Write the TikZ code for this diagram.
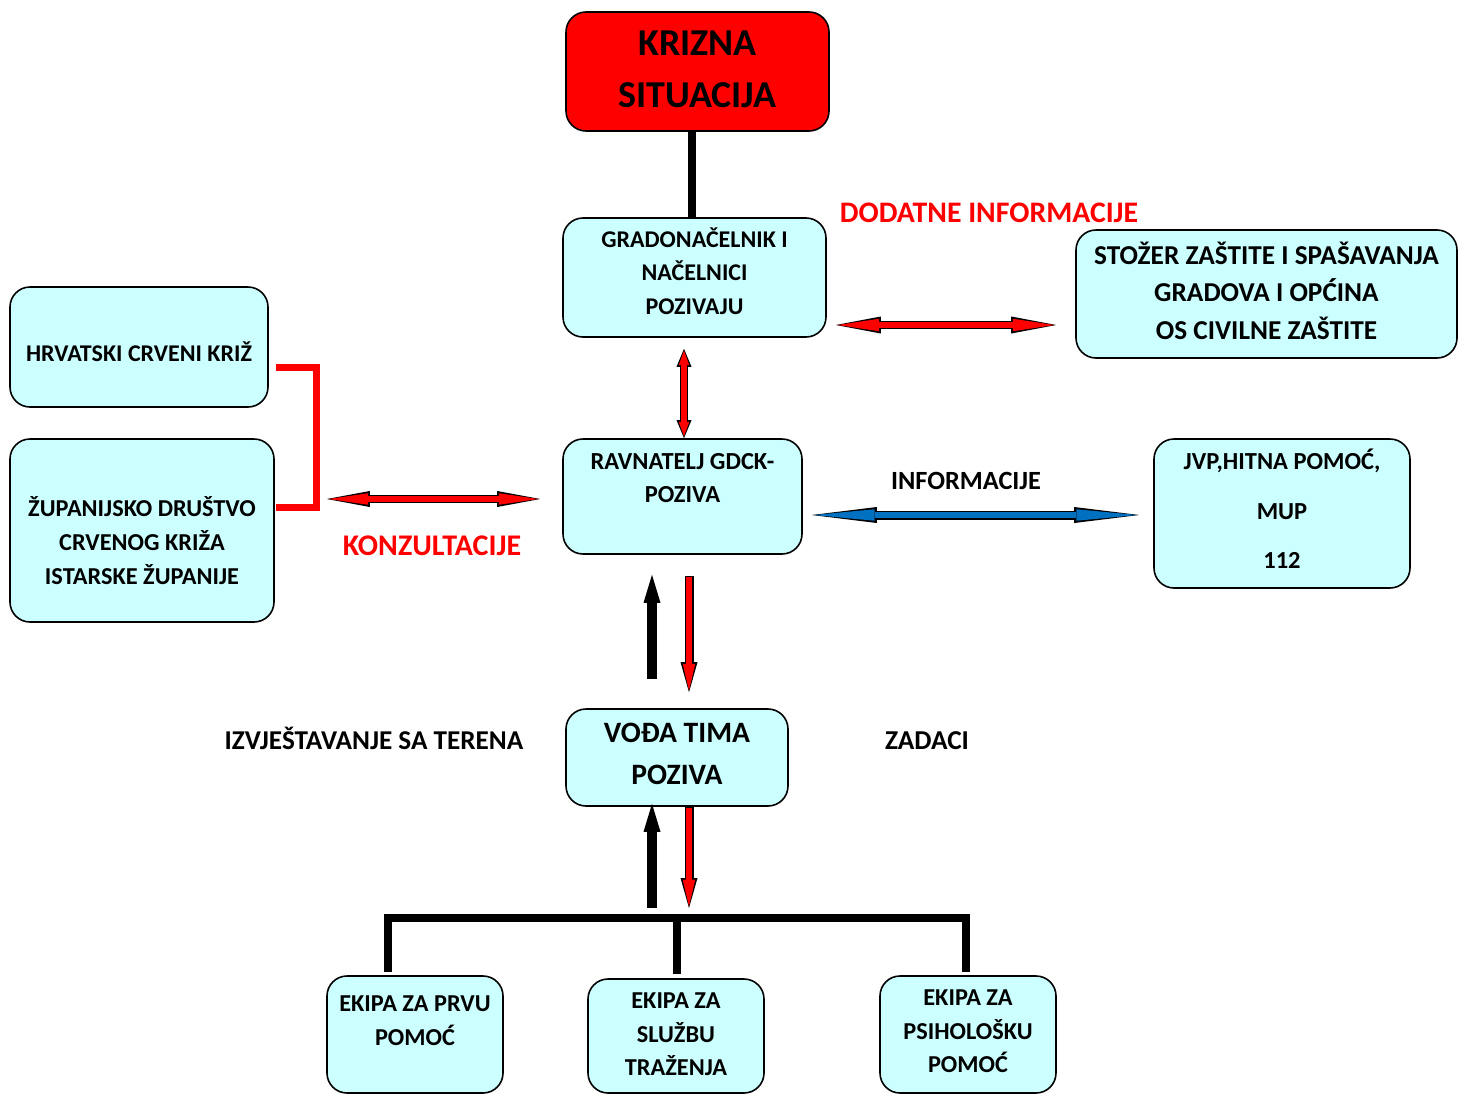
\documentclass[tikz,border=0pt]{standalone}
\usepackage{fontspec}
\setmainfont{Carlito}
\usetikzlibrary{arrows.meta,calc}
\definecolor{boxfill}{RGB}{204,255,255}
\definecolor{infoblue}{RGB}{0,112,192}
\newcommand{\shiftdn}[1]{\rule{0pt}{\dimexpr0.7\baselineskip+#1\relax}}
\newcommand{\shiftup}[1]{\rule[-\dimexpr0.3\baselineskip+#1\relax]{0pt}{0pt}}
\tikzset{
  box/.style={draw=black, line width=1.6pt, fill=boxfill, rounded corners=20pt,
    align=center, inner sep=0pt, font=\bfseries\fontsize{24}{33.5}\selectfont},
  lbl/.style={anchor=base, inner sep=0pt},
  dblock/.style n args={7}{draw=#1, line width=#7,
    {Triangle[length=#5,width=#6,line width=0pt]}-{Triangle[length=#5,width=#6,line width=0pt]},
    shorten <=1.8pt, shorten >=1.8pt,
    preaction={draw=black, line width=#4,
      {Triangle[length=#2,width=#3,line width=0pt]}-{Triangle[length=#2,width=#3,line width=0pt]},
      shorten <=0pt, shorten >=0pt}},
  sblock/.style n args={7}{draw=#1, line width=#7,
    -{Triangle[length=#5,width=#6,line width=0pt]},
    shorten <=1.5pt, shorten >=1.8pt,
    preaction={draw=black, line width=#4,
      -{Triangle[length=#2,width=#3,line width=0pt]},
      shorten <=0pt, shorten >=0pt}},
  blkup/.style={draw=black, line width=9.5pt, -{Triangle[length=28pt,width=17pt,line width=0pt]}},
  thickline/.style={draw=black, line width=8.5pt, line join=miter},
}
\begin{document}
\begin{tikzpicture}[x=1pt,y=-1pt]
\useasboundingbox (0,0) rectangle (1467,1095);
\fill[white] (0,0) rectangle (1467,1095);
\clip (0,0) rectangle (1467,1095);

% boxes
\node[box, fill=red, minimum width=263pt, minimum height=119pt,
  font=\bfseries\fontsize{38}{52}\selectfont] (krizna) at (697.5,71.5)
  {\shiftdn{0pt}KRIZNA\\SITUACIJA\shiftup{1pt}};
\node[box, minimum width=263pt, minimum height=119pt] (grad) at (694.5,277.5)
  {\shiftdn{0pt}GRADONAČELNIK I\\NAČELNICI\\POZIVAJU\shiftup{7pt}};
\node[box, minimum width=381pt, minimum height=128pt,
  font=\bfseries\fontsize{27.3}{37.5}\selectfont] (stozer) at (1266.5,294)
  {\shiftdn{0pt}STOŽER ZAŠTITE I SPAŠAVANJA\\GRADOVA I OPĆINA\\OS CIVILNE ZAŠTITE\shiftup{0pt}};
\node[box, minimum width=258pt, minimum height=120pt] (hck) at (139,347)
  {\shiftdn{15pt}HRVATSKI CRVENI KRIŽ\shiftup{0pt}};
\node[box, minimum width=264pt, minimum height=183pt,
  font=\bfseries\fontsize{24.3}{34}\selectfont] (zup) at (142,530.5)
  {\shiftdn{27pt}ŽUPANIJSKO DRUŠTVO\\CRVENOG KRIŽA\\ISTARSKE ŽUPANIJE\shiftup{0pt}};
\node[box, minimum width=239pt, minimum height=115pt,
  font=\bfseries\fontsize{24.5}{33}\selectfont] (ravn) at (682.5,496.5)
  {\shiftdn{0pt}RAVNATELJ GDCK-\\POZIVA\shiftup{34pt}};
\node[box, minimum width=256pt, minimum height=149pt,
  font=\bfseries\fontsize{24.5}{49.5}\selectfont] (jvp) at (1282,513.5)
  {\shiftdn{-8pt}JVP,HITNA POMOĆ,\\MUP\\112\shiftup{0pt}};
\node[box, minimum width=222pt, minimum height=97pt,
  font=\bfseries\fontsize{29.6}{42}\selectfont] (voda) at (677,757.5)
  {\shiftdn{0pt}VOĐA TIMA\\POZIVA\shiftup{5pt}};
\node[box, minimum width=176pt, minimum height=117pt,
  font=\bfseries\fontsize{24.3}{34}\selectfont] (e1) at (415,1034.5)
  {\shiftdn{0pt}EKIPA ZA PRVU\\POMOĆ\shiftup{25pt}};
\node[box, minimum width=176pt, minimum height=114pt,
  font=\bfseries\fontsize{24.3}{33.5}\selectfont] (e2) at (676,1036)
  {\shiftdn{0pt}EKIPA ZA\\SLUŽBU\\TRAŽENJA\shiftup{1pt}};
\node[box, minimum width=176pt, minimum height=117pt,
  font=\bfseries\fontsize{24.3}{33.5}\selectfont] (e3) at (968,1034.5)
  {\shiftdn{0pt}EKIPA ZA\\PSIHOLOŠKU\\POMOĆ\shiftup{4pt}};

% free labels
\node[lbl, text=red, font=\bfseries\fontsize{29.8}{34}\selectfont] (dod) at (989,222.6) {DODATNE INFORMACIJE};
\node[lbl, text=red, font=\bfseries\fontsize{30}{34}\selectfont] (konz) at (432,555.6) {KONZULTACIJE};
\node[lbl, font=\bfseries\fontsize{26.3}{30}\selectfont] (info) at (966,489.5) {INFORMACIJE};
\node[lbl, font=\bfseries\fontsize{27.2}{30}\selectfont] (izvj) at (374,749.7) {IZVJEŠTAVANJE SA TERENA};
\node[lbl, font=\bfseries\fontsize{27.3}{30}\selectfont] (zad) at (927,749.8) {ZADACI};

% helper coordinates
\coordinate (xk) at (692,0);
\coordinate (xv) at (684,0);
\coordinate (y1) at (0,325);
\coordinate (y2) at (0,499);
\coordinate (y3) at (0,515);
\coordinate (yb1) at (0,367);
\coordinate (yb2) at (0,507);
\coordinate (brk) at (316,0);
\coordinate (xa) at (652,0);
\coordinate (xr) at (689,0);
\coordinate (bar) at (677,918);
\coordinate (xe1) at (388,0);
\coordinate (xe2) at (677,0);
\coordinate (xe3) at (966,0);

% connectors
\draw[thickline] (krizna.south -| xk) -- (grad.north -| xk);
\draw[dblock={red}{18pt}{15pt}{8pt}{14.5pt}{10.5pt}{5.5pt}]
  ($(grad.south -| xv)+(0,11)$) -- (ravn.north -| xv);
\draw[dblock={red}{45pt}{17pt}{8pt}{41.5pt}{12.5pt}{5.5pt}]
  ($(grad.east |- y1)+(9,0)$) -- ($(stozer.west |- y1)+(-19,0)$);
\draw[dblock={red}{43pt}{16pt}{8pt}{39.5pt}{11.5pt}{5.5pt}]
  ($(zup.east |- y2)+(52,0)$) -- ($(ravn.west |- y2)+(-22,0)$);
\draw[dblock={infoblue}{65pt}{16pt}{9pt}{61pt}{11.5pt}{6.5pt}]
  ($(ravn.east |- y3)+(9,0)$) -- ($(jvp.west |- y3)+(-14,0)$);
\draw[red, line width=7pt, line join=miter]
  ($(hck.east |- yb1)+(7,0)$) -- (brk |- yb1) -- (brk |- yb2) -- ($(zup.east |- yb2)+(1,0)$);

\draw[blkup] ($(voda.north -| xa)+(0,-29)$) -- ($(ravn.south -| xa)+(0,20)$);
\draw[sblock={red}{30pt}{17pt}{9pt}{26.5pt}{12.5pt}{6.5pt}]
  ($(ravn.south -| xr)+(0,21)$) -- ($(voda.north -| xr)+(0,-16)$);
\draw[blkup] ($(bar -| xa)+(0,-10)$) -- ($(voda.south -| xa)+(0,-3)$);
\draw[sblock={red}{30pt}{17pt}{9pt}{26.5pt}{12.5pt}{6.5pt}]
  (voda.south -| xr) -- ($(bar -| xr)+(0,-10)$);

\draw[thickline] ($(e1.north -| xe1)+(0,-3)$) -- (xe1 |- bar) -- (xe3 |- bar) -- ($(e3.north -| xe3)+(0,-3)$);
\draw[thickline] ($(e2.north -| xe2)+(0,-4)$) -- (xe2 |- bar);
\end{tikzpicture}
\end{document}
